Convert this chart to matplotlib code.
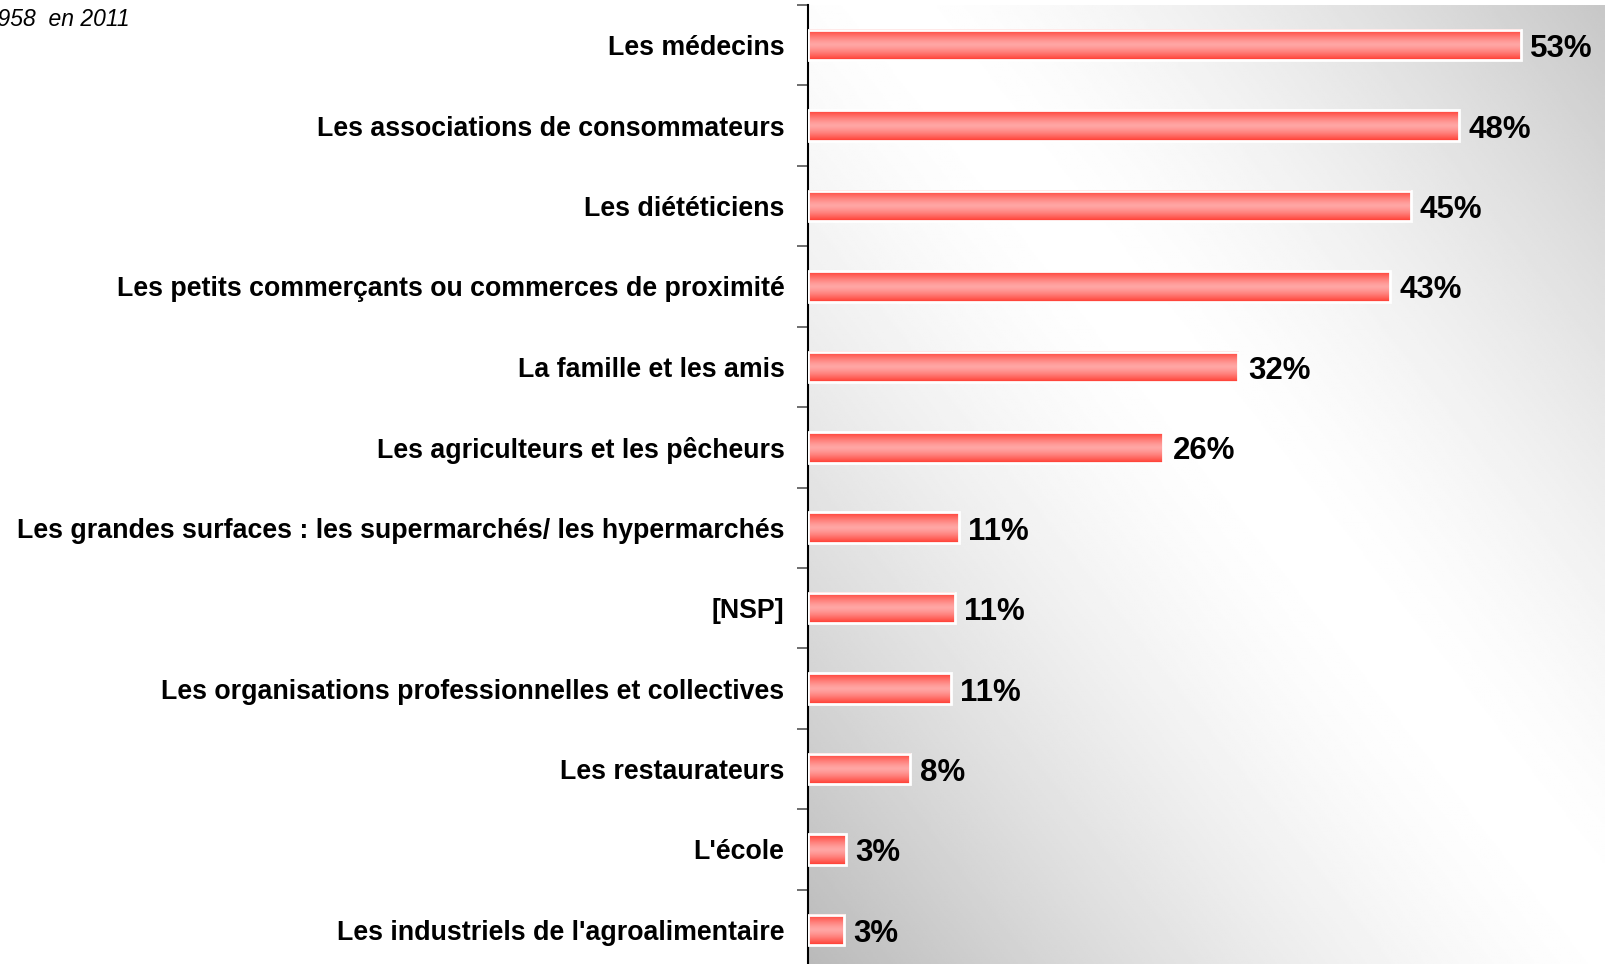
import matplotlib.pyplot as plt
import numpy as np
from matplotlib.colors import LinearSegmentedColormap

plt.rcParams['font.family'] = ['Liberation Sans', 'DejaVu Sans']

categories = [
    "Les médecins",
    "Les associations de consommateurs",
    "Les diététiciens",
    "Les petits commerçants ou commerces de proximité",
    "La famille et les amis",
    "Les agriculteurs et les pêcheurs",
    "Les grandes surfaces : les supermarchés/ les hypermarchés",
    "[NSP]",
    "Les organisations professionnelles et collectives",
    "Les restaurateurs",
    "L'école",
    "Les industriels de l'agroalimentaire",
]
values = [53.0, 48.4, 44.8, 43.3, 32.0, 26.4, 11.2, 10.9, 10.6, 7.6, 2.8, 2.7]
note = "Base : n=958  en 2011"

W, H = 1605, 964
fig = plt.figure(figsize=(W / 100, H / 100), dpi=100)
ax = fig.add_axes([808 / W, -6 / H, 797 / W, 965 / H])

# diagonal reflected grey background
u = np.linspace(0, 797, 400)
v = np.linspace(0, 965, 400)
U, V = np.meshgrid(u, v)
d = np.abs(U - 80 - 0.78 * V) / 720
bg = 1 - 0.22 * np.clip(d, 0, 1.2) ** 1.5
ax.imshow(bg, cmap='gray', vmin=0, vmax=1, extent=[0, 1, 0, 1],
          transform=ax.transAxes, origin='upper', aspect='auto', zorder=0)

y = np.arange(len(categories))
bars = ax.barh(y, values, height=0.38, facecolor='none', edgecolor='white',
               linewidth=2, zorder=3)

# red -> pink -> red vertical shading in each bar
bar_cmap = LinearSegmentedColormap.from_list('bar', ['#ffa6a4', '#ff3b30'])
prof = (np.abs(np.linspace(0, 1, 64) - 0.5) * 2) ** 1.4
for b in bars:
    x0, y0, w, h = b.get_x(), b.get_y(), b.get_width(), b.get_height()
    ax.imshow(prof[:, None], cmap=bar_cmap, vmin=0, vmax=1,
              extent=[x0, x0 + w, y0 + h, y0], aspect='auto', zorder=2)

for i, val in enumerate(values):
    ax.text(val + 0.7, i + 0.05, f"{round(val)}%", va='center', ha='left',
            fontsize=22.5, fontweight='bold', zorder=4)

ax.set_xlim(0, 797 / 13.45)
ax.set_ylim(len(categories) - 0.5, -0.5)

ax.set_yticks(np.arange(-0.5, len(categories)))
ax.set_yticklabels([])
ax.set_yticks(y, minor=True)
ax.set_yticklabels(categories, minor=True, fontsize=19.3, fontweight='bold')
ax.tick_params(axis='y', which='minor', length=0, pad=17)
ax.tick_params(axis='y', which='major', length=8, width=1.2, color='#555555')
ax.set_xticks([])

for s in ['top', 'right', 'bottom']:
    ax.spines[s].set_visible(False)
ax.spines['left'].set_linewidth(1.5)
ax.spines['left'].set_color('black')

fig.text(130 / W, 1 - 20 / H, note, ha='right', va='center', fontsize=16.5,
         style='italic')

fig.savefig('out.png', dpi=100)
